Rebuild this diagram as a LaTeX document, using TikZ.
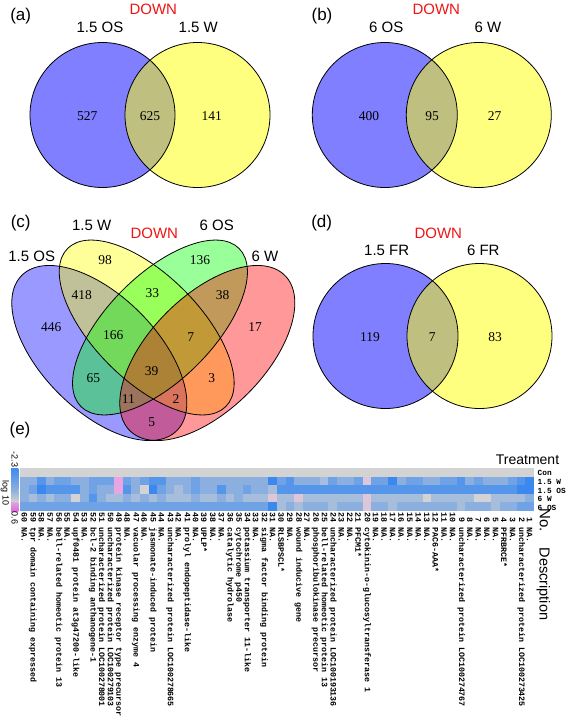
\documentclass[tikz,border=0pt]{standalone}
\usepackage{fontspec}
\setmainfont{Liberation Serif}
\setsansfont{Liberation Sans}
\setmonofont{Liberation Mono}
\definecolor{vblue}{RGB}{0,0,255}
\definecolor{vyellow}{RGB}{255,255,0}
\definecolor{vgreen}{RGB}{0,255,0}
\definecolor{vred}{RGB}{255,0,0}
\definecolor{downred}{RGB}{240,20,20}
\definecolor{hmB}{RGB}{51,133,240}
\definecolor{hmG}{RGB}{211,211,211}
\definecolor{hmPk}{RGB}{225,105,225}
\colorlet{hm0}{hmG}
\colorlet{hm1}{hmB!28!hmG}
\colorlet{hm2}{hmB!45!hmG}
\colorlet{hm3}{hmB!62!hmG}
\colorlet{hm4}{hmB!78!hmG}
\colorlet{hm5}{hmB!95!hmG}
\definecolor{hmP}{RGB}{232,165,225}
\definecolor{hmp}{RGB}{222,198,218}
\newcommand\hmrow[2]{\foreach \cc [count=\ii from 0] in {#2}{\fill[fill=hm\cc] ({20+\ii*8.5667},{468+#1*8.6}) rectangle ++(8.7,8.7);}}
\begin{document}
\begin{tikzpicture}[x=1pt,y=-1pt,
  lab/.style={font=\sffamily\fontsize{15}{18}\selectfont, inner sep=0},
  panel/.style={font=\sffamily\fontsize{17}{20}\selectfont, inner sep=0},
  downlab/.style={font=\sffamily\fontsize{15}{18}\selectfont, text=downred, inner sep=0},
  vnum/.style={font=\fontsize{13.5}{16}\selectfont, inner sep=0},
  vout/.style={draw=black, line width=0.8pt},
  collab/.style={font=\ttfamily\bfseries\fontsize{8.3}{9}\selectfont, rotate=-90, anchor=west, inner sep=0},
  rowlab/.style={font=\ttfamily\bfseries\fontsize{7.8}{9}\selectfont, anchor=west, inner sep=0},
  barlab/.style={font=\sffamily\fontsize{9}{10}\selectfont, rotate=-90, inner sep=0},
]
\useasboundingbox (0,0) rectangle (573,723);
\fill[white] (0,0) rectangle (573,723);

% ---------- (a)
\node[panel] (pa) at (20.7,16) {(a)};
\node[downlab] (da) at (153.3,9.5) {DOWN};
\node[lab] (la1) at (100,27.5) {1.5 OS};
\node[lab] (la2) at (198.3,27.5) {1.5 W};
\fill[vblue, fill opacity=.5] (102.5,115) circle [radius=72.5];
\fill[vyellow, fill opacity=.5] (197.5,115) circle [radius=72.5];
\draw[vout] (102.5,115) circle [radius=72.5];
\draw[vout] (197.5,115) circle [radius=72.5];
\node[vnum] (na1) at (87.3,116) {527};
\node[vnum] (na2) at (150,116) {625};
\node[vnum] (na3) at (211.7,116) {141};

% ---------- (b)
\node[panel] (pb) at (322,16) {(b)};
\node[downlab] (db) at (436.3,9.5) {DOWN};
\node[lab] (lb1) at (386.3,27.5) {6 OS};
\node[lab] (lb2) at (488,27.5) {6 W};
\fill[vblue, fill opacity=.5] (384.8,115) circle [radius=72.5];
\fill[vyellow, fill opacity=.5] (478.8,115) circle [radius=72.5];
\draw[vout] (384.8,115) circle [radius=72.5];
\draw[vout] (478.8,115) circle [radius=72.5];
\node[vnum] (nb1) at (369,116) {400};
\node[vnum] (nb2) at (432,116) {95};
\node[vnum] (nb3) at (494.7,116) {27};

% ---------- (c)
\node[panel] (pc) at (20.7,223.3) {(c)};
\node[lab] (lc2) at (91.7,225) {1.5 W};
\node[downlab] (dc) at (154.3,233.3) {DOWN};
\node[lab] (lc3) at (216.7,225) {6 OS};
\node[lab] (lc1) at (31.7,256.7) {1.5 OS};
\node[lab] (lc4) at (265,256.7) {6 W};
\coordinate (cB) at (99.3,353);
\coordinate (cY) at (146.7,327.5);
\coordinate (cG) at (160,327.5);
\coordinate (cP) at (207.3,353);
\fill[vblue, fill opacity=.4, rotate around={-45:(cB)}] (cB) ellipse [x radius=109.7, y radius=57.3];
\fill[vyellow, fill opacity=.4, rotate around={-45:(cY)}] (cY) ellipse [x radius=111.8, y radius=52.8];
\fill[vgreen, fill opacity=.4, rotate around={45:(cG)}] (cG) ellipse [x radius=111.8, y radius=52.8];
\fill[vred, fill opacity=.4, rotate around={45:(cP)}] (cP) ellipse [x radius=109.7, y radius=57.3];
\draw[vout, rotate around={-45:(cB)}] (cB) ellipse [x radius=109.7, y radius=57.3];
\draw[vout, rotate around={-45:(cY)}] (cY) ellipse [x radius=111.8, y radius=52.8];
\draw[vout, rotate around={45:(cG)}] (cG) ellipse [x radius=111.8, y radius=52.8];
\draw[vout, rotate around={45:(cP)}] (cP) ellipse [x radius=109.7, y radius=57.3];
\node[vnum] (nc98) at (105,260) {98};
\node[vnum] (nc136) at (200,260) {136};
\node[vnum] (nc418) at (81.7,295.5) {418};
\node[vnum] (nc33) at (152.3,293.3) {33};
\node[vnum] (nc38) at (222.7,295.5) {38};
\node[vnum] (nc446) at (51.2,326.7) {446};
\node[vnum] (nc166) at (113.3,334.7) {166};
\node[vnum] (nc7) at (190.7,336.7) {7};
\node[vnum] (nc17) at (255,326.7) {17};
\node[vnum] (nc39) at (151.7,370.7) {39};
\node[vnum] (nc65) at (93.3,378.3) {65};
\node[vnum] (nc3) at (211.7,378.3) {3};
\node[vnum] (nc11) at (128.3,399.3) {11};
\node[vnum] (nc2) at (176,399.3) {2};
\node[vnum] (nc5) at (151.7,421.7) {5};

% ---------- (d)
\node[panel] (pd) at (321.7,223.3) {(d)};
\node[downlab] (dd) at (438.3,233.3) {DOWN};
\node[lab] (ld1) at (386.7,250.7) {1.5 FR};
\node[lab] (ld2) at (483.3,250.7) {6 FR};
\fill[vblue, fill opacity=.5] (385.5,336) circle [radius=72.5];
\fill[vyellow, fill opacity=.5] (479.5,336) circle [radius=72.5];
\draw[vout] (385.5,336) circle [radius=72.5];
\draw[vout] (479.5,336) circle [radius=72.5];
\node[vnum] (nd1) at (370,337) {119};
\node[vnum] (nd2) at (432.3,337) {7};
\node[vnum] (nd3) at (495,337) {83};

% ---------- (e)
\node[panel] (pe) at (20,430) {(e)};
\node[font=\sffamily\fontsize{14}{16}\selectfont, inner sep=0] (treat) at (527.5,460) {Treatment};
% colour bar
\shade[top color=hmB!95!white, bottom color=hmB!45!hmG] (11,468) rectangle (18.3,490);
\shade[top color=hmB!45!hmG, bottom color=hmG] (11,490) rectangle (18.3,502);
\shade[top color=hmG!60!hmPk, bottom color=hmPk] (11,502) rectangle (18.3,511);
\node[barlab] (bmin) at (14.7,459.5) {-2.3};
\node[barlab] (blog) at (5,493) {log 10};
\node[barlab] (bmax) at (14.7,518) {0.6};
% heat map rows
\fill[hm0] (20,468) rectangle (534,476.7);
\hmrow{1}{2,2,4,2,3,3,2,2,3,3,3,P,3,2,3,4,4,2,2,2,3,2,2,2,2,2,2,2,2,5,3,4,2,2,2,1,3,2,2,3,p,3,3,5,2,3,3,2,2,3,3,4,2,3,2,2,2,3,4,5}
\hmrow{2}{2,3,5,4,4,4,4,2,3,2,2,P,4,2,0,5,3,2,1,2,3,2,2,4,2,2,3,2,2,1,4,4,4,4,4,4,4,4,4,4,4,4,4,4,4,4,4,4,4,4,4,4,4,4,4,4,4,4,5,5}
\hmrow{3}{2,1,2,1,2,2,0,2,4,2,1,1,2,1,2,1,2,1,1,1,2,1,1,2,1,2,1,1,1,p,1,1,p,1,1,1,1,1,1,1,p,1,1,1,1,1,1,0,1,1,1,1,1,0,0,1,1,1,1,2}
\hmrow{4}{3,3,3,3,3,3,3,3,3,3,3,3,3,3,3,3,3,3,3,3,3,3,3,3,3,3,3,3,3,5,1,2,1,2,2,2,1,2,2,2,p,2,2,1,2,2,2,2,2,2,2,1,2,2,2,1,2,2,3,3}
\fill[white] (534,466) rectangle (537,513);
% row labels
\node[rowlab] (rCon) at (537.5,473.3) {Con};
\node[rowlab] (r15W) at (537.5,481.9) {1.5 W};
\node[rowlab] (r15OS) at (537.5,490.5) {1.5 OS};
\node[rowlab] (r6W) at (537.5,499.1) {6 W};
\node[rowlab] (r6OS) at (537.5,507.7) {6 OS};
% column labels
\foreach \desc [count=\i] in {NA.,uncharacterized protein LOC100273425,NA.,PFRBRCE*,NA.,NA.,NA.,NA.,uncharacterized protein LOC100274767,NA.,NA.,PAC6-AAA*,NA.,NA.,NA.,NA.,NA.,NA.,NA.,cytokinin-o-glucosyltransferase 1,PFCM1*,NA.,NA.,uncharacterized protein LOC100193136,bell-related homeotic protein 13,phosphoribulokinase precursor,NA.,wound inducive gene,NA.,RLSBPSCL*,NA.,sigma factor binding protein,NA.,potassium transporter 11-like,cytochrome p450,catalytic hydrolase,NA.,NA.,UPLP*,NA.,prolyl endopeptidase-like,NA.,uncharacterized protein LOC100278665,NA.,jasmonate-induced protein,NA.,vacuolar processing enzyme 4,NA.,protein kinase receptor type precursor,uncharacterized protein LOC100279103,uncharacterized protein LOC100278001,bcl-2 binding anthanogene-1,NA.,upf0481 protein at3g47200-like,NA.,bell-related homeotic protein 13,NA.,NA.,tpr domain containing expressed,NA.}
  {\node[collab] (col\i) at ({534-(\i-0.5)*8.5667},512.5) {\ifnum\i<10 \hphantom{0}\fi\i\ \desc};}
\node[font=\sffamily\fontsize{15}{18}\selectfont, rotate=-90, inner sep=0] (hno) at (545,520) {No.};
\node[font=\sffamily\fontsize{14.5}{17}\selectfont, rotate=-90, inner sep=0] (hdesc) at (543.3,584) {Description};
\end{tikzpicture}
\end{document}
